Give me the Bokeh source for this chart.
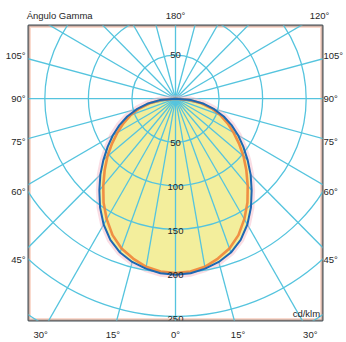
import numpy as np
from bokeh.plotting import figure
from bokeh.models import Label, BoxAnnotation, Range1d, LinearAxis, FixedTicker
from bokeh.embed import file_html
from bokeh.resources import INLINE

# ---- data (cd/klm vs gamma angle) ----
gamma_deg = [0, 5, 10, 15, 20, 25, 30, 35, 40, 45, 50, 55, 60, 65, 70, 75, 80, 85, 90]
intensity_c0_180 = [200, 199, 196, 192, 186, 177, 165, 151, 136, 122, 108, 95, 83, 71, 59, 46, 33, 18, 0]
intensity_c90_270 = [198, 197, 194, 188, 181, 171, 158, 144, 129, 115, 102, 89, 77, 66, 55, 43, 30, 16, 0]
ring_values = [50, 100, 150, 200, 250, 300]
ring_labels_below = [50, 100, 150, 200, 250]
ring_labels_above = [50]
spoke_step = 15
inner_spoke_step = 10
side_angles = [105, 90, 75, 60, 45]
bottom_angles = [-30, -15, 0, 15, 30]
top_angles = [180, 120]
axis_title = "Ángulo Gamma"
unit_label = "cd/klm"

# ---- styles ----
GRID = "#55c4de"
FILL = "#f3ee9c"
BLUE = "#1d68b3"
ORANGE = "#f0843a"
TXT = "#262626"
FONT = "Liberation Sans"
FS = "9.5px"

p = figure(width=346, height=342, output_backend="svg", toolbar_location=None,
           x_axis_location=None, y_axis_location=None,
           min_border_left=28, min_border_right=21, min_border_top=25, min_border_bottom=22)
p.x_range = Range1d(-168.75, 168.75)
p.y_range = Range1d(-252.0, 83.2)
p.grid.visible = False
p.background_fill_color = "white"
p.border_fill_color = "white"
p.outline_line_color = "#3e4d54"
p.outline_line_width = 2


def polar(r, g):
    a = np.radians(g)
    return r * np.sin(a), -r * np.cos(a)


# frame halo
p.add_layout(BoxAnnotation(left=-168.75, right=168.75, bottom=-252.0, top=83.2,
                           fill_color=None, line_color="#f6c2ae", line_width=5,
                           line_alpha=0.6, level="underlay"))

# full spokes every 15 degrees
xs, ys = [], []
for a in range(0, 360, spoke_step):
    x1, y1 = polar(340, a)
    xs.append([0, x1]); ys.append([0, y1])
p.multi_line(xs, ys, line_color=GRID, line_width=1.3)

# luminous curve (symmetric)
I = np.array(intensity_c0_180, dtype=float)
I2 = np.array(intensity_c90_270, dtype=float)
g = np.array(gamma_deg, dtype=float)
g_full = np.concatenate([-g[::-1], g[1:]])
r_full = np.concatenate([I[::-1], I[1:]])
r2_full = np.concatenate([I2[::-1], I2[1:]])
cx, cy = polar(r_full, g_full)
cx2, cy2 = polar(r2_full, g_full)

p.line(cx, cy, line_color="#f5b3c4", line_width=7, line_alpha=0.45)
p.patch(cx, cy, fill_color=FILL, line_color=None)

# inner spokes every 10 degrees, up to the curve
xs, ys = [], []
for gg in range(-80, 81, inner_spoke_step):
    r = I[gamma_deg.index(abs(gg))]
    x1, y1 = polar(r, gg)
    xs.append([0, x1]); ys.append([0, y1])
p.multi_line(xs, ys, line_color=GRID, line_width=1.3)

# rings
p.circle(x=[0] * len(ring_values), y=[0] * len(ring_values), radius=ring_values,
         fill_color=None, line_color=GRID, line_width=1.3)

p.line(cx2, cy2, line_color=ORANGE, line_width=2.6, line_alpha=0.9)
p.line(cx, cy, line_color=BLUE, line_width=2)


def lab(x, y, t, align="center"):
    p.add_layout(Label(x=x, y=y, text=t, text_align=align, text_baseline="middle",
                       text_font=FONT, text_font_size=FS, text_color=TXT))


for v in ring_labels_below:
    lab(0, -v, str(v))
for v in ring_labels_above:
    lab(0, v, str(v))
lab(166.0, -244.0, unit_label, "right")


def add_axis(ticks, labels, loc, standoff):
    ticks = [round(float(t), 2) for t in ticks]
    ax = LinearAxis(ticker=FixedTicker(ticks=ticks),
                    major_label_overrides={t: l for t, l in zip(ticks, labels)},
                    axis_line_color=None, major_tick_line_color=None,
                    minor_tick_line_color=None, major_tick_in=0, major_tick_out=0,
                    minor_tick_in=0, minor_tick_out=0,
                    major_label_standoff=standoff, major_label_text_font=FONT,
                    major_label_text_font_size=FS, major_label_text_color=TXT)
    p.add_layout(ax, loc)


# angle labels placed where the spokes leave the frame
xc = 183.0
side_y = [-xc * np.cos(np.radians(a)) / np.sin(np.radians(a)) for a in side_angles]
side_txt = [f"{a}°" for a in side_angles]
add_axis(side_y, side_txt, "left", 3)
add_axis(side_y, side_txt, "right", 1)

yb = -268.0
bot_x = [-yb * np.tan(np.radians(a)) for a in bottom_angles]
add_axis(bot_x, [f"{abs(a)}°" for a in bottom_angles], "below", 8)

yt = 95.5
top_x = [0.0 if a == 180 else yt * np.sin(np.radians(a)) / (-np.cos(np.radians(a))) for a in top_angles]
add_axis(top_x + [-133.0], [f"{a}°" for a in top_angles] + [axis_title], "above", 5)

open("out.html", "w").write(file_html(p, INLINE))
